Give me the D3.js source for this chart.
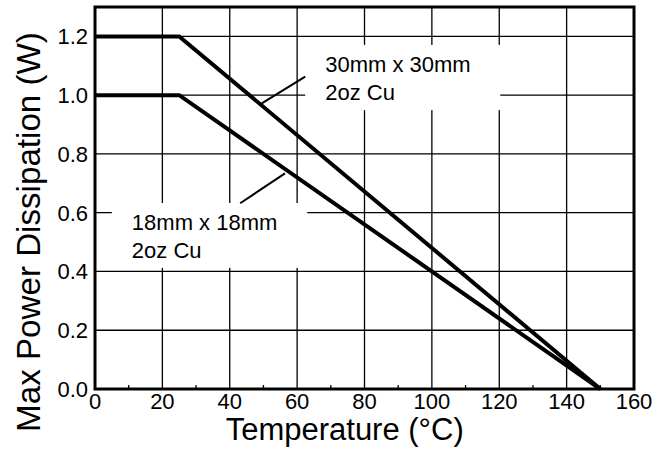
<!DOCTYPE html>
<html>
<head>
<meta charset="utf-8">
<script src="https://cdn.jsdelivr.net/npm/d3@7/dist/d3.min.js"></script>
<style>
  html, body { margin: 0; padding: 0; background: #fff; }
  svg { display: block; font-family: "Liberation Sans", Arial, sans-serif; }
</style>
</head>
<body>
<svg id="chart" width="672" height="451"></svg>
<script>
// ---- data ----
const temperatures = [0, 25, 150];
const power30mm = [1.2, 1.2, 0.0];   // 30mm x 30mm 2oz Cu
const power18mm = [1.0, 1.0, 0.0];   // 18mm x 18mm 2oz Cu
const xTicks = [0, 20, 40, 60, 80, 100, 120, 140, 160];
const xMinorTicks = [10, 30, 50, 70, 90, 110, 130, 150];
const yTicks = [0.0, 0.2, 0.4, 0.6, 0.8, 1.0, 1.2];
const labels30 = ["30mm x 30mm", "2oz Cu"];
const labels18 = ["18mm x 18mm", "2oz Cu"];

const svg = d3.select("#chart");
const L = 95, R = 634, T = 7, B = 389;
const x = d3.scaleLinear().domain([0, 160]).range([L, R]);
const y = d3.scaleLinear().domain([0, 1.3]).range([B, T]);

// grid
const g = svg.append("g");
g.selectAll("line.vg").data(xTicks).join("line")
  .attr("x1", d => x(d)).attr("x2", d => x(d)).attr("y1", T).attr("y2", B)
  .attr("stroke", "#000").attr("stroke-width", 1.3);
g.selectAll("line.hg").data(yTicks).join("line")
  .attr("x1", L).attr("x2", R).attr("y1", d => y(d)).attr("y2", d => y(d))
  .attr("stroke", "#000").attr("stroke-width", 1.3);
// minor ticks (inward)
g.selectAll("line.mt").data(xMinorTicks).join("line")
  .attr("x1", d => x(d)).attr("x2", d => x(d)).attr("y1", B).attr("y2", B - 4)
  .attr("stroke", "#000").attr("stroke-width", 1.3);

// annotation boxes
function annot(box, lines, leader) {
  const bx = x(box[0]), by = y(box[3]);
  const bw = x(box[1]) - bx, bh = y(box[2]) - by;
  svg.append("rect").attr("x", bx).attr("y", by).attr("width", bw).attr("height", bh)
    .attr("fill", "#fff");
  svg.append("g").selectAll("text").data(lines).join("text")
    .attr("x", bx + 20).attr("y", (d, i) => by + 27 + i * 28)
    .attr("font-size", 22).attr("fill", "#000").text(d => d);
  svg.append("line")
    .attr("x1", x(leader[0])).attr("y1", y(leader[1]))
    .attr("x2", x(leader[2])).attr("y2", y(leader[3]))
    .attr("stroke", "#000").attr("stroke-width", 2);
}
annot([62.4, 120.3, 0.949, 1.171], labels30, [62.4, 1.063, 49.5, 0.972]);
annot([5.0, 63.0, 0.412, 0.633], labels18, [43.1, 0.632, 56.4, 0.734]);

// data lines
const line = d3.line().x((d, i) => x(temperatures[i])).y(d => y(d));
[power30mm, power18mm].forEach(s => {
  svg.append("path").datum(s).attr("d", line)
    .attr("fill", "none").attr("stroke", "#000").attr("stroke-width", 4)
    .attr("stroke-linejoin", "miter");
});

// frame
svg.append("rect").attr("x", L).attr("y", T).attr("width", R - L).attr("height", B - T)
  .attr("fill", "none").attr("stroke", "#000").attr("stroke-width", 3);

// tick labels
svg.append("g").selectAll("text").data(xTicks).join("text")
  .attr("x", d => x(d)).attr("y", B + 20).attr("text-anchor", "middle")
  .attr("font-size", 22).text(d => d);
svg.append("g").selectAll("text").data(yTicks).join("text")
  .attr("x", L - 7).attr("y", d => y(d) + 8).attr("text-anchor", "end")
  .attr("font-size", 22).text(d => d.toFixed(1));

// axis titles
const xt = svg.append("text").attr("x", 344.7).attr("y", 440).attr("text-anchor", "middle")
  .attr("font-size", 30).text("Temperature (°C)");
const yt = svg.append("text").attr("transform", "translate(40,232) rotate(-90)")
  .attr("text-anchor", "middle").attr("font-size", 31).text("Max Power Dissipation (W)");
// fit titles to the lengths seen in the reference
const ylen = yt.node().getComputedTextLength();
if (ylen > 0) yt.attr("font-size", 31 * 400 / ylen);
const xlen = xt.node().getComputedTextLength();
if (xlen > 0) xt.attr("font-size", Math.min(31, 30 * 244 / xlen));
</script>
</body>
</html>
